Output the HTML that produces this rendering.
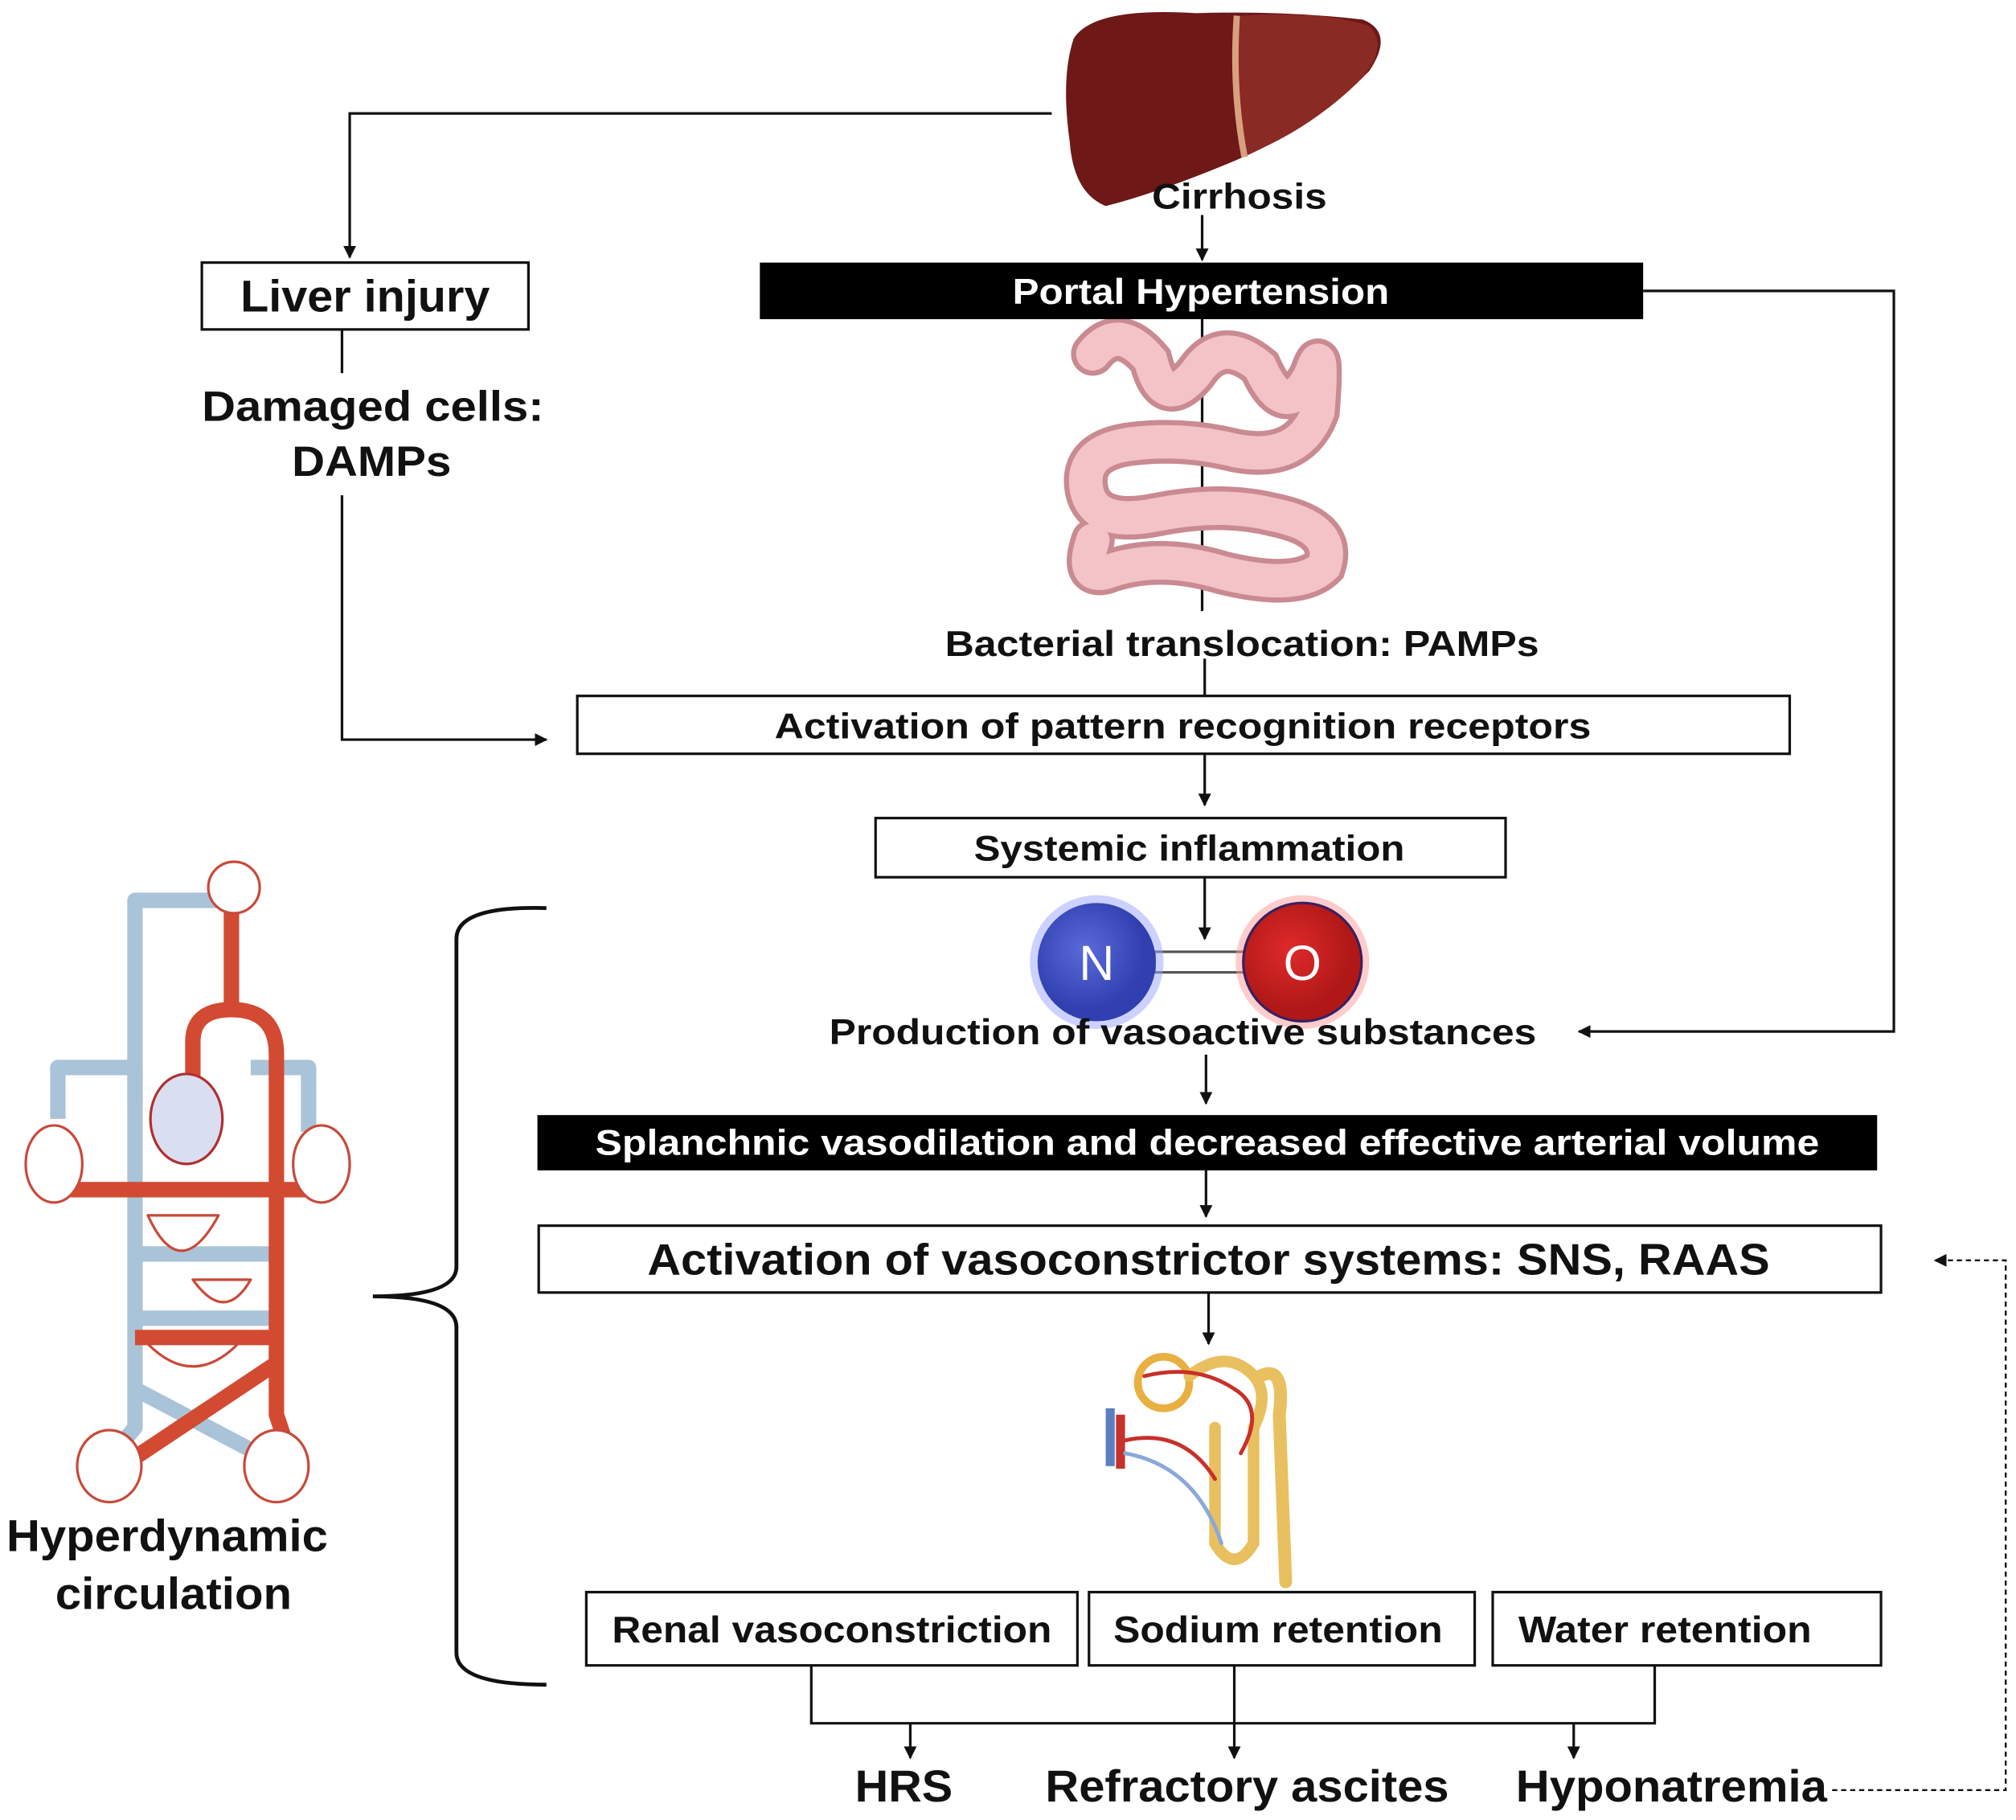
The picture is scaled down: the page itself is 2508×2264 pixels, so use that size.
<!DOCTYPE html>
<html><head><meta charset="utf-8"><style>
html,body{margin:0;padding:0;background:#fff;}
svg{display:block;}
text{font-family:"Liberation Sans",Arial,sans-serif;font-weight:bold;fill:#111;}
</style></head><body>
<svg width="2508" height="2264" viewBox="0 0 1568 1415" xmlns="http://www.w3.org/2000/svg">
<defs>
<marker id="ah" markerWidth="10" markerHeight="10" refX="9" refY="5" orient="auto" markerUnits="userSpaceOnUse" viewBox="0 0 10 10"><path d="M0,0 L10,5 L0,10 z" fill="#111"/></marker>
<radialGradient id="gN" cx="40%" cy="40%"><stop offset="0" stop-color="#5a6ad8"/><stop offset="1" stop-color="#3040b0"/></radialGradient>
<radialGradient id="gO" cx="40%" cy="40%"><stop offset="0" stop-color="#e02a2a"/><stop offset="1" stop-color="#b01818"/></radialGradient>
</defs>
<rect width="1568" height="1415" fill="#fff"/>

<!-- liver -->
<path d="M835,30 Q850,5 930,10 Q1000,8 1060,15 Q1085,25 1065,55 Q1020,100 960,125 Q900,150 860,160 Q835,150 832,110 Q825,60 835,30 z" fill="#6e1818"/>
<path d="M965,12 Q1030,8 1065,20 Q1080,35 1060,60 Q1020,100 970,120 Q960,70 965,12 z" fill="#8a2a24"/>
<path d="M962,12 Q958,70 968,122" stroke="#d9a080" stroke-width="5" fill="none"/>

<!-- connectors -->
<g stroke="#111" stroke-width="2" fill="none">
<polyline points="818,88 272,88 272,200" marker-end="url(#ah)"/>
<line x1="266" y1="256" x2="266" y2="290"/>
<polyline points="266,385 266,575 425,575" marker-end="url(#ah)"/>
<line x1="935" y1="167" x2="935" y2="202" marker-end="url(#ah)"/>
<polyline points="1278,226 1473,226 1473,802 1228,802" marker-end="url(#ah)"/>
<line x1="935" y1="248" x2="935" y2="475"/>
<line x1="937" y1="512" x2="937" y2="541"/>
<line x1="937" y1="586" x2="937" y2="626" marker-end="url(#ah)"/>
<line x1="937" y1="682" x2="937" y2="730" marker-end="url(#ah)"/>
<line x1="938" y1="820" x2="938" y2="858" marker-end="url(#ah)"/>
<line x1="938" y1="910" x2="938" y2="946" marker-end="url(#ah)"/>
<line x1="940" y1="1005" x2="940" y2="1045" marker-end="url(#ah)"/>
<polyline points="631,1295 631,1340 1287,1340 1287,1295"/>
<line x1="708" y1="1340" x2="708" y2="1367" marker-end="url(#ah)"/>
<line x1="960" y1="1295" x2="960" y2="1367" marker-end="url(#ah)"/>
<line x1="1224" y1="1340" x2="1224" y2="1367" marker-end="url(#ah)"/>
<polyline points="1425,1392 1560,1392 1560,980 1505,980" stroke-dasharray="4,3" stroke-width="1.5" marker-end="url(#ah)"/>
<path d="M425,706 Q355,704 355,730 L355,985 Q355,1008 290,1008 Q355,1008 355,1032 L355,1285 Q355,1310 425,1310" stroke-width="3"/>
</g>

<!-- intestine -->
<g fill="none" stroke-linecap="round">
<path d="M850,275 Q870,250 895,280 Q905,320 930,290 Q950,260 980,285 Q1000,330 1020,290 Q1030,260 1025,320 Q1010,360 960,350 Q920,340 880,345 Q840,350 845,380 Q850,410 900,400 Q950,390 990,400 Q1040,410 1030,440 Q1010,460 950,445 Q900,430 860,445 Q840,450 850,420" stroke="#c98a92" stroke-width="34"/>
<path d="M850,275 Q870,250 895,280 Q905,320 930,290 Q950,260 980,285 Q1000,330 1020,290 Q1030,260 1025,320 Q1010,360 960,350 Q920,340 880,345 Q840,350 845,380 Q850,410 900,400 Q950,390 990,400 Q1040,410 1030,440 Q1010,460 950,445 Q900,430 860,445 Q840,450 850,420" stroke="#f3c3c8" stroke-width="26"/>
</g>

<!-- boxes -->
<g fill="#fff" stroke="#111" stroke-width="2">
<rect x="157" y="204" width="254" height="52"/>
<rect x="449" y="541" width="943" height="45"/>
<rect x="681" y="636" width="490" height="46"/>
<rect x="419" y="953" width="1044" height="52"/>
<rect x="456" y="1238" width="382" height="57"/>
<rect x="847" y="1238" width="300" height="57"/>
<rect x="1161" y="1238" width="302" height="57"/>
</g>
<rect x="591" y="204" width="687" height="44" fill="#000"/>
<rect x="418" y="867" width="1042" height="43" fill="#000"/>

<!-- NO molecule -->
<rect x="898" y="740" width="70" height="16" fill="#fff" stroke="#555" stroke-width="2"/>
<circle cx="853" cy="748" r="52" fill="#9aa4ff" opacity="0.5"/>
<circle cx="853" cy="748" r="46" fill="url(#gN)"/>
<circle cx="1013" cy="748" r="52" fill="#ff9a9a" opacity="0.5"/>
<circle cx="1013" cy="748" r="46" fill="url(#gO)" stroke="#3a2060" stroke-width="2"/>
<text x="853" y="762" font-size="38" text-anchor="middle" style="fill:#fff;font-weight:normal">N</text>
<text x="1013" y="762" font-size="38" text-anchor="middle" style="fill:#fff;font-weight:normal">O</text>

<!-- nephron -->
<g fill="none" stroke-linecap="round">
<rect x="860" y="1095" width="7" height="45" fill="#5b7fc0"/>
<rect x="868" y="1100" width="7" height="42" fill="#c8302a"/>
<circle cx="905" cy="1075" r="20" stroke="#e8b040" stroke-width="6"/>
<path d="M925,1070 Q950,1050 970,1065 Q990,1080 975,1110 L975,1200 Q960,1225 945,1200 L945,1110" stroke="#e8c060" stroke-width="9"/>
<path d="M980,1070 Q1000,1060 995,1100 L1000,1230" stroke="#e8c060" stroke-width="10"/>
<path d="M875,1120 Q920,1110 945,1150 M890,1070 Q930,1060 960,1080 Q985,1095 965,1130" stroke="#c8302a" stroke-width="3"/>
<path d="M875,1130 Q930,1140 950,1200" stroke="#8aa8d8" stroke-width="3"/>
</g>

<!-- circulation -->
<g fill="none" stroke-linejoin="round">
<g stroke="#a9c3d8" stroke-width="12">
<polyline points="105,860 105,700 170,700"/>
<polyline points="45,870 45,830 105,830 105,1110 80,1140"/>
<polyline points="240,880 240,830 195,830"/>
<line x1="105" y1="975" x2="210" y2="975"/>
<line x1="105" y1="1025" x2="210" y2="1025"/>
<line x1="105" y1="1080" x2="200" y2="1130"/>
</g>
<g stroke="#d24a32" stroke-width="12">
<polyline points="180,700 180,790"/>
<path d="M150,860 L150,810 Q150,785 180,785 Q215,785 215,820 L215,1100 L225,1130"/>
<polyline points="40,925 250,925"/>
<line x1="105" y1="1040" x2="215" y2="1040"/>
<line x1="215" y1="1060" x2="95" y2="1140"/>
</g>
<ellipse cx="145" cy="870" rx="28" ry="35" fill="#d9dff0" stroke="#b03030" stroke-width="2"/>
<g fill="#fff" stroke="#c84a3a" stroke-width="2">
<circle cx="182" cy="690" r="20"/>
<ellipse cx="42" cy="905" rx="22" ry="30"/>
<ellipse cx="250" cy="905" rx="22" ry="30"/>
<path d="M115,945 Q140,1000 170,945 z"/>
<path d="M150,995 Q175,1030 195,995 z"/>
<path d="M115,1045 Q150,1080 185,1045 z"/>
<ellipse cx="85" cy="1140" rx="25" ry="28"/>
<ellipse cx="215" cy="1140" rx="25" ry="28"/>
</g>
</g>

<!-- texts -->
<text x="964" y="162" font-size="28" text-anchor="middle" textLength="136" lengthAdjust="spacingAndGlyphs">Cirrhosis</text>
<text x="284" y="242" font-size="35" text-anchor="middle" textLength="194" lengthAdjust="spacingAndGlyphs">Liver injury</text>
<text x="290" y="327" font-size="33" text-anchor="middle" textLength="266" lengthAdjust="spacingAndGlyphs">Damaged cells:</text>
<text x="289" y="370" font-size="33" text-anchor="middle" textLength="124" lengthAdjust="spacingAndGlyphs">DAMPs</text>
<text x="934" y="236" font-size="28" text-anchor="middle" style="fill:#fff" textLength="293" lengthAdjust="spacingAndGlyphs">Portal Hypertension</text>
<text x="966" y="510" font-size="28" text-anchor="middle" textLength="462" lengthAdjust="spacingAndGlyphs">Bacterial translocation:  PAMPs</text>
<text x="920" y="574" font-size="28" text-anchor="middle" textLength="635" lengthAdjust="spacingAndGlyphs">Activation of pattern recognition receptors</text>
<text x="925" y="669" font-size="28" text-anchor="middle" textLength="335" lengthAdjust="spacingAndGlyphs">Systemic inflammation</text>
<text x="920" y="812" font-size="28" text-anchor="middle" textLength="550" lengthAdjust="spacingAndGlyphs">Production of vasoactive substances</text>
<text x="939" y="898" font-size="28" text-anchor="middle" style="fill:#fff" textLength="952" lengthAdjust="spacingAndGlyphs">Splanchnic vasodilation and decreased effective arterial volume</text>
<text x="940" y="991" font-size="34" text-anchor="middle" textLength="873" lengthAdjust="spacingAndGlyphs">Activation of vasoconstrictor systems: SNS, RAAS</text>
<text x="647" y="1277" font-size="29" text-anchor="middle" textLength="342" lengthAdjust="spacingAndGlyphs">Renal vasoconstriction</text>
<text x="994" y="1277" font-size="29" text-anchor="middle" textLength="256" lengthAdjust="spacingAndGlyphs">Sodium retention</text>
<text x="1295" y="1277" font-size="29" text-anchor="middle" textLength="228" lengthAdjust="spacingAndGlyphs">Water retention</text>
<text x="703" y="1401" font-size="35" text-anchor="middle" textLength="76" lengthAdjust="spacingAndGlyphs">HRS</text>
<text x="970" y="1401" font-size="35" text-anchor="middle" textLength="314" lengthAdjust="spacingAndGlyphs">Refractory ascites</text>
<text x="1300" y="1401" font-size="35" text-anchor="middle" textLength="242" lengthAdjust="spacingAndGlyphs">Hyponatremia</text>
<text x="130" y="1206" font-size="35" text-anchor="middle" textLength="250" lengthAdjust="spacingAndGlyphs">Hyperdynamic</text>
<text x="135" y="1251" font-size="35" text-anchor="middle" textLength="184" lengthAdjust="spacingAndGlyphs">circulation</text>
</svg>
</body></html>
